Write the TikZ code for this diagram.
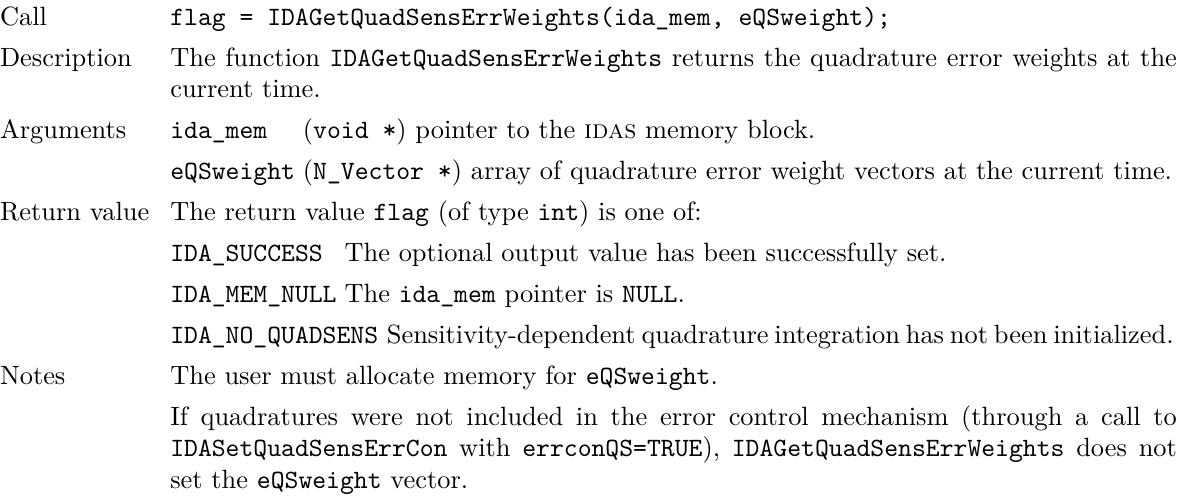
\documentclass[tikz,border=0pt]{standalone}
\begin{document}
\begin{tikzpicture}[x=1pt,y=-1pt,
	lbl/.style={anchor=base west,inner sep=0pt,outer sep=0pt},
	txt/.style={anchor=base west,inner sep=0pt,outer sep=0pt},
	para/.style={anchor=base west,inner sep=0pt,outer sep=0pt,text width=381.3pt,align=justify}]
	\useasboundingbox (0,0) rectangle (448.1,188.2);
	\node[lbl] (call) at (0,9.5) {Call};
	\node[txt] (callt) at (64.5,9.5) {\texttt{flag = IDAGetQuadSensErrWeights(ida\_mem, eQSweight);}};
	\node[lbl] (desc) at (0,25) {Description};
	\node[para] (desct) at (64.5,25) {The function \texttt{IDAGetQuadSensErrWeights} returns the quadrature error weights at the current time.};
	\node[lbl] (args) at (0,52.5) {Arguments};
	\node[txt] (amem) at (64.5,52.5) {\texttt{ida\_mem}};
	\node[txt] (amemt) at (114.75,52.5) {(\texttt{void *}) pointer to the \textsc{idas} memory block.};
	\node[txt] (awgt) at (64.5,68) {\texttt{eQSweight}};
	\node[txt] (awgtt) at (114.75,68) {(\texttt{N\_Vector *}) array of quadrature error weight vectors at the current time.};
	\node[lbl] (ret) at (0,83.5) {Return value};
	\node[txt] (rett) at (64.5,83.5) {The return value \texttt{flag} (of type \texttt{int}) is one of:};
	\node[txt] (rsucc) at (64.5,99) {\texttt{IDA\_SUCCESS}};
	\node[txt] (rsucct) at (130.5,99) {The optional output value has been successfully set.};
	\node[txt] (rmem) at (64.5,114.5) {\texttt{IDA\_MEM\_NULL}};
	\node[txt] (rmemt) at (130.5,114.5) {The \texttt{ida\_mem} pointer is \texttt{NULL}.};
	\node[txt] (rquad) at (64.5,130) {\texttt{IDA\_NO\_QUADSENS}};
	\node[txt] (rquadt) at ([xshift=3.3pt]rquad.base east) {\makebox[297.8pt][s]{Sensitivity-dependent quadrature integration has not been initialized.}};
	\node[lbl] (notes) at (0,145.5) {Notes};
	\node[txt] (note1) at (64.5,145.5) {The user must allocate memory for \texttt{eQSweight}.};
	\node[para] (note2) at (64.5,161) {If quadratures were not included in the error control mechanism (through a call to \texttt{IDASetQuadSensErrCon} with \texttt{errconQS=TRUE}), \texttt{IDAGetQuadSensErrWeights} does not set the \texttt{eQSweight} vector.};
\end{tikzpicture}
\end{document}
